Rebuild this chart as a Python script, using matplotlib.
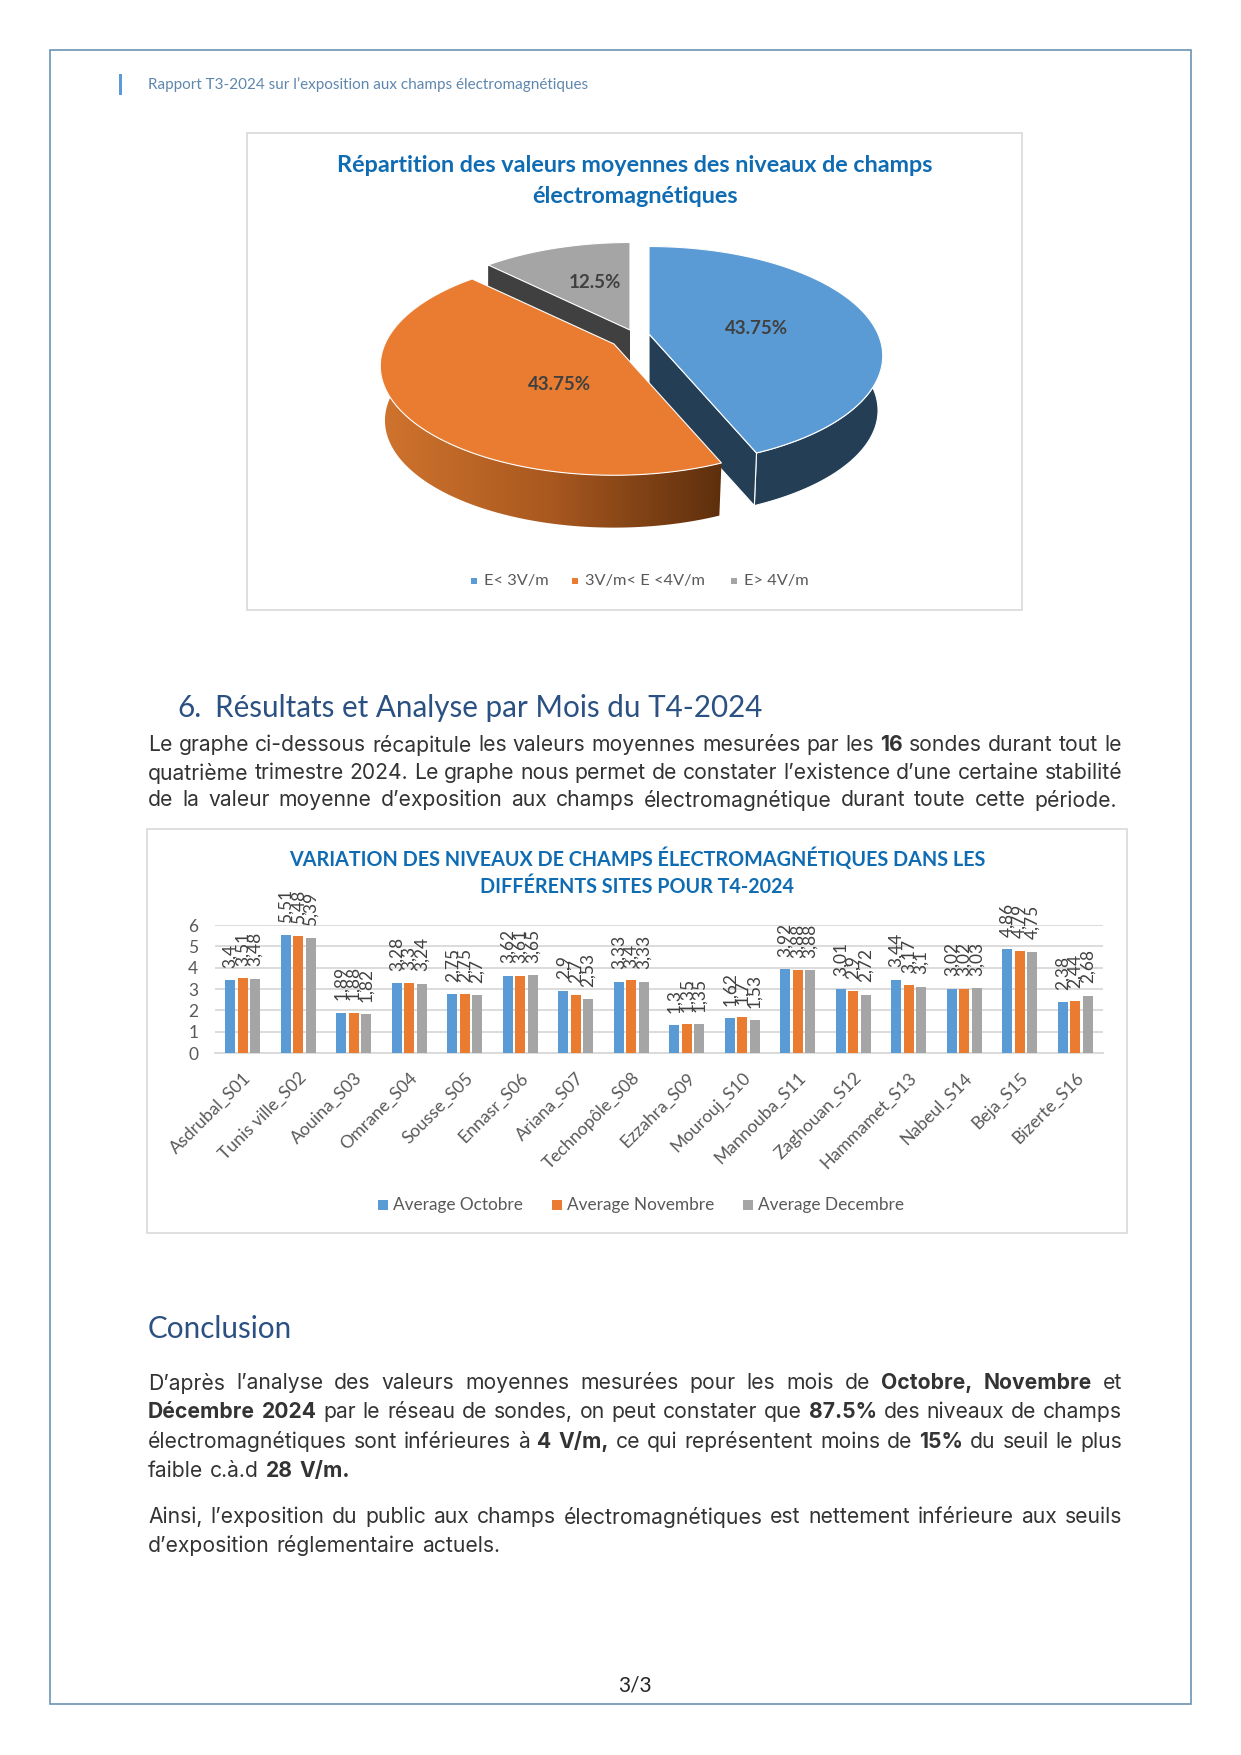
"""
Report page: 3D pie of field levels and monthly bar chart per probe site
"""
import matplotlib
matplotlib.use('Agg')
import matplotlib.pyplot as plt
import numpy as np
from matplotlib.colors import LinearSegmentedColormap
from matplotlib.patches import Polygon, Rectangle

# Pie data
pie_labels = ['E< 3V/m', '3V/m< E <4V/m', 'E> 4V/m']
pie_values = [43.75, 43.75, 12.5]

# Bar data
sites = ['Asdrubal_S01', 'Tunis ville_S02', 'Aouina_S03', 'Omrane_S04',
         'Sousse_S05', 'Ennasr_S06', 'Ariana_S07', 'Technopôle_S08',
         'Ezzahra_S09', 'Mourouj_S10', 'Mannouba_S11', 'Zaghouan_S12',
         'Hammamet_S13', 'Nabeul_S14', 'Beja_S15', 'Bizerte_S16']
octobre = [3.4, 5.51, 1.89, 3.28, 2.75, 3.62, 2.9, 3.33,
           1.3, 1.62, 3.92, 3.01, 3.44, 3.02, 4.86, 2.38]
novembre = [3.51, 5.48, 1.88, 3.3, 2.75, 3.61, 2.7, 3.4,
            1.35, 1.7, 3.88, 2.9, 3.17, 3.02, 4.79, 2.44]
decembre = [3.48, 5.39, 1.82, 3.24, 2.7, 3.65, 2.53, 3.33,
            1.35, 1.53, 3.88, 2.72, 3.1, 3.03, 4.75, 2.68]
series_names = ['Average Octobre', 'Average Novembre', 'Average Decembre']

# Text of the page
para_1 = [
    'Le graphe ci-dessous récapitule les valeurs moyennes mesurées par les **16** sondes durant tout le',
    'quatrième trimestre 2024. Le graphe nous permet de constater l’existence d’une certaine stabilité',
    'de la valeur moyenne d’exposition aux champs électromagnétique durant toute cette période.',
]
para_2 = [
    'D’après l’analyse des valeurs moyennes mesurées pour les mois de **Octobre,** **Novembre** et',
    '**Décembre** **2024** par le réseau de sondes, on peut constater que **87.5%** des niveaux de champs',
    'électromagnétiques sont inférieures à **4** **V/m,** ce qui représentent moins de **15%** du seuil le plus',
    'faible c.à.d **28** **V/m.**',
]
para_3 = [
    'Ainsi, l’exposition du public aux champs électromagnétiques est nettement inférieure aux seuils',
    'd’exposition réglementaire actuels.',
]

BLUE = '#5B9BD5'
ORANGE = '#E97C30'
GREY = '#A5A5A5'
TITLE_BLUE = '#0F6CB3'
HEAD_BLUE = '#2B5082'
BODY_FONT = 'Inter'
UI_FONT = 'Lato'
DEPTH = 55

plt.rcParams['font.family'] = UI_FONT

fig = plt.figure(figsize=(12.41, 17.55), dpi=100)
page = fig.add_axes([0, 0, 1, 1])
page.set_xlim(0, 1241)
page.set_ylim(1755, 0)
page.axis('off')

renderer = fig.canvas.get_renderer()


def word_width(word, size, weight):
    t = page.text(0, 0, word, fontsize=size, fontweight=weight, family=BODY_FONT)
    w = t.get_window_extent(renderer).width
    t.remove()
    return w


def draw_line(line, y, justify=True, x0=148, x1=1122, size=15.2):
    # draw one paragraph line word by word so it can be justified
    words = []
    for w in line.split():
        bold = w.startswith('**')
        words.append((w.strip('*'), 'bold' if bold else 'normal'))
    widths = [word_width(w, size, wt) for w, wt in words]
    space = word_width('n', size, 'normal') * 0.55
    if justify:
        space = (x1 - x0 - sum(widths)) / (len(words) - 1)
    x = x0
    for (w, wt), wd in zip(words, widths):
        page.text(x, y, w, fontsize=size, fontweight=wt, family=BODY_FONT,
                  color='#333333', va='center', ha='left')
        x += wd + space


def disk_point(theta, cx, cy, rx=229, ry=105, k=0.2):
    # theta clockwise from the top, with some perspective towards the viewer
    u, v = np.sin(theta), -np.cos(theta)
    s = 1 / (1 - k * v)
    return cx + rx * u * s, cy + ry * v * s


def pie_slice(start, end, cx, cy, wall=None, shrink=0.98, gradient=None):
    thetas = np.linspace(start, end, 120)
    xs, ys = disk_point(thetas, cx, cy)
    bx = cx + (xs - cx) * shrink
    by = cy + (ys - cy) * shrink + DEPTH
    outer = np.column_stack([np.r_[xs, bx[::-1]], np.r_[ys, by[::-1]]])
    # outer side wall
    if gradient is not None:
        cmap = LinearSegmentedColormap.from_list('wall', gradient)
        im = page.imshow(np.linspace(0, 1, 256).reshape(1, -1), cmap=cmap, aspect='auto',
                         extent=(outer[:, 0].min(), outer[:, 0].max(),
                                 outer[:, 1].max(), outer[:, 1].min()), zorder=4)
        im.set_clip_path(Polygon(outer, transform=page.transData))
    elif wall is not None:
        page.add_patch(Polygon(outer, fc=wall, ec='white', lw=0.8, zorder=2))
    return xs, ys, bx, by


# Frames
page.add_patch(Rectangle((50, 50), 1141, 1654, fc='none', ec='#6C93B3', lw=1.2))
page.add_patch(Rectangle((247, 133), 775, 477, fc='white', ec='#D9D9D9', lw=1.2))
page.add_patch(Rectangle((147, 829), 980, 404, fc='white', ec='#D9D9D9', lw=1.2))

# Running header
page.add_patch(Rectangle((119, 74), 3, 21, fc='#5B9BD5', ec='none'))
page.text(148, 84.5, 'Rapport T3-2024 sur l’exposition aux champs électromagnétiques',
          fontsize=11, color='#5F87AD', va='center')

# Pie chart title
page.text(635, 165, 'Répartition des valeurs moyennes des niveaux de champs',
          fontsize=16.85, fontweight='bold', color=TITLE_BLUE, ha='center', va='center')
page.text(635, 196, 'électromagnétiques',
          fontsize=16.85, fontweight='bold', color=TITLE_BLUE, ha='center', va='center')

# 3D pie, angles come from the values
cum = np.cumsum([0] + pie_values) / sum(pie_values) * 2 * np.pi
blue_c, orange_c, grey_c = (649, 334), (614, 344), (630, 330)

# grey slice: only its inner wall shows, orange covers the lower part
gx, gy = disk_point(cum[2], *grey_c)
page.add_patch(Polygon([(grey_c[0], grey_c[1]), (gx, gy), (gx, gy + DEPTH),
                        (grey_c[0], grey_c[1] + DEPTH)], fc='#404040', ec='none', zorder=1))
xs, ys, _, _ = pie_slice(cum[2], cum[3], *grey_c)
page.add_patch(Polygon(np.column_stack([np.r_[grey_c[0], xs], np.r_[grey_c[1], ys]]),
                       fc=GREY, ec='white', lw=0.8, zorder=3))

# blue slice
xs, ys, bx, by = pie_slice(cum[0], cum[1], *blue_c, wall='#243F55')
page.add_patch(Polygon([blue_c, (xs[-1], ys[-1]), (bx[-1], by[-1]), (blue_c[0], blue_c[1] + DEPTH)],
                       fc='#243F55', ec='white', lw=0.8, zorder=2))
page.add_patch(Polygon(np.column_stack([np.r_[blue_c[0], xs], np.r_[blue_c[1], ys]]),
                       fc=BLUE, ec='white', lw=0.8, zorder=3))

# orange slice with shaded wall
xs, ys, bx, by = pie_slice(cum[1], cum[2], *orange_c,
                           gradient=['#D0742E', '#A9581F', '#5E2F0D'])
page.add_patch(Polygon(np.column_stack([np.r_[orange_c[0], xs], np.r_[orange_c[1], ys]]),
                       fc=ORANGE, ec='white', lw=0.8, zorder=5))
page.set_xlim(0, 1241)
page.set_ylim(1755, 0)

# Pie value labels
label_pos = [(757, 328), (560, 384), (595, 282)]
for val, (lx, ly) in zip(pie_values, label_pos):
    page.text(lx, ly, f'{val}%', fontsize=13.5, fontweight='bold', color='#404040',
              ha='center', va='center', zorder=6)

# Pie legend
for name, col, sx in zip(pie_labels, [BLUE, ORANGE, GREY], [471, 572, 731]):
    page.add_patch(Rectangle((sx, 578), 6, 6, fc=col, ec='none'))
    page.text(sx + 13, 581.5, name, fontsize=11.8, color='#595959', va='center')

# Section 6
page.text(177, 708, '6.', fontsize=21.3, color=HEAD_BLUE, va='center')
page.text(215, 708, 'Résultats et Analyse par Mois du T4-2024', fontsize=21.3, color=HEAD_BLUE, va='center')
for line, y in zip(para_1, [745, 773, 800]):
    draw_line(line, y, x1=1122 if y < 790 else 1117)

# Bar chart title
page.text(637, 859, 'VARIATION DES NIVEAUX DE CHAMPS ÉLECTROMAGNÉTIQUES DANS LES',
          fontsize=14.2, fontweight='bold', color=TITLE_BLUE, ha='center', va='center')
page.text(637, 887, 'DIFFÉRENTS SITES POUR T4-2024',
          fontsize=14.2, fontweight='bold', color=TITLE_BLUE, ha='center', va='center')

# Bar chart
ax = fig.add_axes([215 / 1241, 1 - 1053 / 1755, 888 / 1241, 128 / 1755])
ax.patch.set_alpha(0)
x = np.arange(len(sites))
bar_w = 0.18
offsets = [-0.222, 0, 0.222]
for vals, off, col in zip([octobre, novembre, decembre], offsets, [BLUE, ORANGE, GREY]):
    ax.bar(x + off, vals, width=bar_w, color=col, zorder=3)
    for xi, v in zip(x, vals):
        ax.annotate(str(v).replace('.', ','), (xi + off, v), xytext=(0, 9),
                    textcoords='offset points', rotation=90, ha='center', va='bottom',
                    fontsize=12.5, color='#404040', zorder=4)
ax.set_xlim(-0.5, len(sites) - 0.5)
ax.set_ylim(0, 6)
ax.set_yticks(range(7))
ax.set_xticks(x)
ax.set_xticklabels(sites, rotation=45, ha='right', rotation_mode='anchor')
ax.tick_params(axis='both', length=0, colors='#595959', labelsize=12.7)
ax.tick_params(axis='x', pad=12)
ax.tick_params(axis='y', pad=12, labelsize=12.5)
ax.grid(axis='y', color='#D9D9D9', linewidth=1.3, zorder=0)
for side in ['top', 'right', 'left']:
    ax.spines[side].set_visible(False)
ax.spines['bottom'].set_color('#D9D9D9')
ax.spines['bottom'].set_linewidth(1.3)

# Bar legend
for name, col, sx in zip(series_names, [BLUE, ORANGE, GREY], [378, 552, 743]):
    page.add_patch(Rectangle((sx, 1200), 10, 10, fc=col, ec='none'))
    page.text(sx + 15, 1205, name, fontsize=12.4, color='#595959', va='center')

# Conclusion
page.text(148, 1329, 'Conclusion', fontsize=21.3, color=HEAD_BLUE, va='center')
for i, (line, y) in enumerate(zip(para_2, [1383, 1412, 1442, 1471])):
    draw_line(line, y, justify=i < 3)
for i, (line, y) in enumerate(zip(para_3, [1517, 1546])):
    draw_line(line, y, justify=i < 1)

# Page number
page.text(635, 1685, '3/3', fontsize=15, color='#262626', ha='center', va='center')

plt.savefig('out.png', dpi=100)
